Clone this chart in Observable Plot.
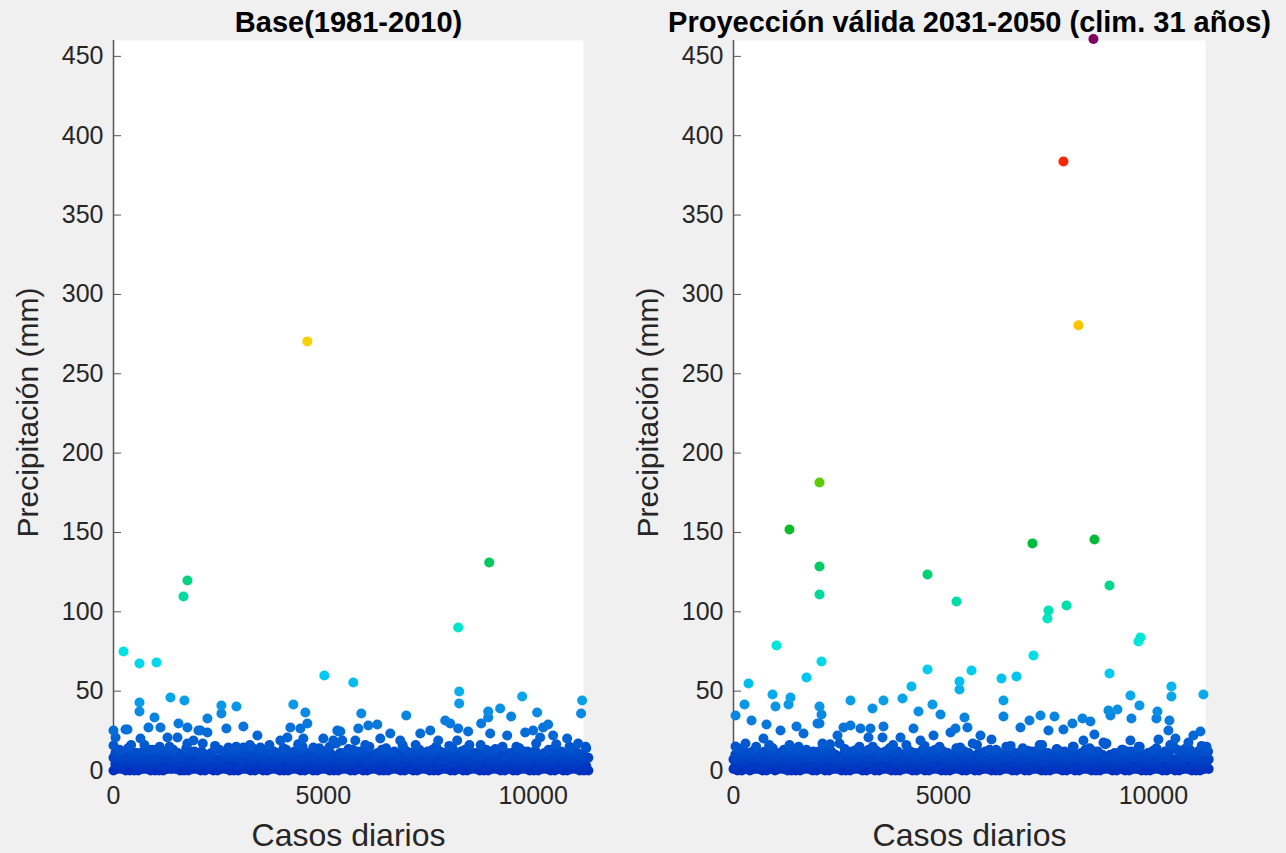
<!DOCTYPE html>
<html>
<head>
<meta charset="utf-8">
<script src="https://cdn.jsdelivr.net/npm/d3@7"></script>
<script src="https://cdn.jsdelivr.net/npm/@observablehq/plot@0.6"></script>
<style>
  html, body { margin: 0; padding: 0; background: #f0f0f0; }
  #wrap { position: relative; width: 1286px; height: 853px; overflow: hidden; background: #f0f0f0; }
  #left, #right { position: absolute; top: 0; }
  #left { left: 0; }
  #right { left: 600px; }
</style>
</head>
<body>
<div id="wrap"><div id="left"></div><div id="right"></div></div>
<script>
// ---------- text ----------
const titles = ["Base(1981-2010)", "Proyección válida 2031-2050 (clim. 31 años)"];
const xLabel = "Casos diarios";
const yLabel = "Precipitación (mm)";
const xTicks = [0, 5000, 10000];
const yTicks = [0, 50, 100, 150, 200, 250, 300, 350, 400, 450];

// ---------- colour map (value -> colour) ----------
const colorStops = [0, 10, 20, 30, 40, 50, 60, 70, 80, 95, 110, 125, 145, 155, 180, 270, 285, 383, 461];
const colorRange = ["#0030c0", "#0048c8", "#0462d4", "#0a7ade", "#0a94e6", "#08b0ec", "#00c8f0", "#00dcea",
  "#00e6dc", "#00e6c4", "#00dc9e", "#00d070", "#00bc38", "#10bb20", "#58cc00", "#f8d000", "#ffc000", "#ff2600", "#800064"];

// ---------- dense low band: day index shared, daily precipitation per panel ----------
const bandDays = [
  0, 45, 95, 150, 198, 240, 292, 345, 390, 441,
  495, 540, 588, 640, 690, 737, 785, 840, 888, 935,
  990, 1037, 1085, 1138, 1185, 1236, 1290, 1334, 1385, 1438,
  1482, 1533, 1587, 1630, 1680, 1735, 1782, 1830, 1884, 1930,
  1978, 2032, 2080, 2127, 2180, 2226, 2275, 2330, 2378, 2425,
  2477, 2525, 2573, 2628, 2674, 2720, 2774, 2822, 2870, 2925,
  2972, 3018, 3070, 3120, 3168, 3222, 3270, 3317, 3368, 3418,
  3465, 3520, 3566, 3614, 3666, 3716, 3763, 3818, 3864, 3912,
  3963, 4014, 4060, 4115, 4162, 4210, 4260, 4312, 4358, 4412,
  4458, 4506, 4557, 4610, 4655, 4710, 4756, 4804, 4855, 4907,
  4953, 5008, 5054, 5102, 5152, 5205, 5250, 5306, 5352, 5400,
  5449, 5503, 5548, 5603, 5650, 5697, 5746, 5800, 5846, 5900,
  5948, 5995, 6044, 6098, 6144, 6198, 6246, 6293, 6342, 6396,
  6442, 6496, 6544, 6590, 6640, 6694, 6740, 6794, 6842, 6888,
  6938, 6992, 7038, 7092, 7140, 7186, 7236, 7290, 7336, 7390,
  7438, 7484, 7534, 7588, 7634, 7688, 7736, 7782, 7832, 7886,
  7932, 7986, 8034, 8080, 8130, 8184, 8230, 8284, 8332, 8378,
  8428, 8482, 8528, 8582, 8630, 8676, 8726, 8780, 8826, 8880,
  8928, 8974, 9024, 9078, 9124, 9178, 9226, 9272, 9322, 9376,
  9422, 9476, 9524, 9570, 9620, 9674, 9720, 9774, 9822, 9868,
  9918, 9972, 10018, 10072, 10120, 10166, 10216, 10270, 10316, 10370,
  10418, 10464, 10514, 10568, 10614, 10668, 10716, 10762, 10812, 10866,
  10912, 10966, 11014, 11060, 11110, 11164, 11210, 11264, 11315
];
const baseBand = [
  0, 4, 8, 12, 1, 3, 9, 14, 0, 5,
  7, 11, 0, 4, 9, 16, 1, 3, 8, 13,
  0, 5, 7, 12, 0, 4, 8, 15, 1, 3,
  9, 11, 0, 5, 8, 14, 0, 4, 7, 12,
  1, 3, 9, 17, 0, 4, 8, 11, 0, 5,
  7, 13, 1, 4, 9, 12, 0, 3, 8, 15,
  0, 5, 7, 11, 1, 4, 9, 14, 0, 3,
  8, 12, 0, 5, 7, 16, 1, 4, 9, 11,
  0, 3, 8, 13, 0, 5, 7, 12, 1, 4,
  9, 15, 0, 3, 8, 11, 0, 5, 7, 14,
  1, 4, 9, 12, 0, 3, 8, 17, 0, 5,
  7, 11, 1, 4, 9, 13, 0, 3, 8, 12,
  0, 5, 7, 15, 1, 4, 9, 11, 0, 3,
  8, 14, 0, 5, 7, 12, 1, 4, 9, 16,
  0, 3, 8, 11, 0, 5, 7, 13, 1, 4,
  9, 12, 0, 3, 8, 15, 0, 5, 7, 11,
  1, 4, 9, 14, 0, 3, 8, 12, 0, 5,
  7, 16, 1, 4, 9, 11, 0, 3, 8, 13,
  0, 5, 7, 12, 1, 4, 9, 15, 0, 3,
  8, 11, 0, 5, 7, 14, 1, 4, 9, 12,
  0, 3, 8, 17, 0, 5, 7, 11, 1, 4,
  9, 13, 0, 3, 8, 12, 0, 5, 7, 15,
  1, 4, 9, 11, 0, 3, 8, 14, 0
];
const baseBand2 = [
  8, 11, 1, 4, 7, 10, 0, 5, 9, 12,
  0, 3, 8, 11, 1, 5, 7, 13, 0, 4,
  9, 10, 0, 3, 8, 12, 1, 4, 7, 11,
  1, 5, 9, 10, 0, 3, 8, 12, 1, 4,
  7, 11, 0, 5, 9, 10, 1, 3, 8, 13,
  0, 4, 7, 11, 1, 5, 9, 10, 0, 3,
  8, 12, 1, 4, 7, 10, 0, 5, 9, 11,
  1, 3, 8, 10, 0, 4, 7, 12, 1, 5,
  9, 11, 0, 3, 8, 10, 1, 4, 7, 13,
  0, 5, 9, 11, 1, 3, 8, 10, 0, 4,
  7, 12, 1, 5, 9, 10, 0, 3, 8, 11,
  1, 4, 7, 10, 0, 5, 9, 12, 1, 3,
  8, 11, 0, 4, 7, 10, 1, 5, 9, 13,
  0, 3, 8, 11, 1, 4, 7, 10, 0, 5,
  9, 12, 1, 3, 8, 11, 0, 4, 7, 10,
  1, 5, 9, 10, 0, 3, 8, 12, 1, 4,
  7, 11, 0, 5, 9, 10, 1, 3, 8, 13,
  0, 4, 7, 11, 1, 5, 9, 10, 0, 3,
  8, 12, 1, 4, 7, 10, 0, 5, 9, 11,
  1, 3, 8, 10, 0, 4, 7, 12, 1, 5,
  9, 11, 0, 3, 8, 10, 1, 4, 7, 13,
  0, 5, 9, 11, 1, 3, 8, 10, 0, 4,
  7, 12, 1, 5, 9, 10, 0, 3, 8
];
const projBand = [
  1, 3, 9, 13, 0, 5, 7, 11, 0, 4,
  8, 15, 1, 3, 7, 12, 0, 5, 9, 14,
  0, 4, 8, 11, 1, 3, 9, 16, 0, 5,
  7, 12, 0, 4, 8, 13, 1, 3, 9, 11,
  0, 5, 7, 14, 0, 4, 8, 12, 1, 3,
  9, 17, 0, 5, 7, 11, 0, 4, 8, 13,
  1, 3, 9, 12, 0, 5, 7, 15, 0, 4,
  8, 11, 1, 3, 9, 14, 0, 5, 7, 12,
  0, 4, 8, 16, 1, 3, 9, 11, 0, 5,
  7, 13, 0, 4, 8, 12, 1, 3, 9, 15,
  0, 5, 7, 11, 0, 4, 8, 14, 1, 3,
  9, 12, 0, 5, 7, 17, 0, 4, 8, 11,
  1, 3, 9, 13, 0, 5, 7, 12, 0, 4,
  8, 15, 1, 3, 9, 11, 0, 5, 7, 14,
  0, 4, 8, 12, 1, 3, 9, 16, 0, 5,
  7, 11, 0, 4, 8, 13, 1, 3, 9, 12,
  0, 5, 7, 15, 0, 4, 8, 11, 1, 3,
  9, 14, 0, 5, 7, 12, 0, 4, 8, 17,
  1, 3, 9, 11, 0, 5, 7, 13, 0, 4,
  8, 12, 1, 3, 9, 15, 0, 5, 7, 11,
  0, 4, 8, 14, 1, 3, 9, 12, 0, 5,
  7, 16, 0, 4, 8, 11, 1, 3, 9, 13,
  0, 5, 7, 12, 0, 4, 8, 15, 1
];
const projBand2 = [
  7, 10, 0, 5, 9, 12, 1, 3, 8, 11,
  1, 4, 9, 10, 0, 3, 7, 12, 1, 5,
  8, 11, 1, 4, 7, 10, 0, 5, 9, 13,
  0, 3, 8, 11, 1, 4, 9, 10, 0, 5,
  9, 12, 1, 3, 8, 11, 0, 4, 7, 10,
  1, 5, 8, 10, 0, 4, 7, 12, 1, 3,
  7, 11, 0, 5, 9, 13, 1, 3, 8, 10,
  0, 4, 9, 12, 1, 3, 8, 11, 0, 5,
  8, 10, 1, 4, 7, 12, 0, 5, 9, 11,
  1, 3, 7, 10, 0, 5, 9, 13, 1, 4,
  9, 11, 0, 3, 8, 10, 1, 4, 7, 12,
  0, 5, 8, 11, 1, 3, 7, 10, 0, 4,
  7, 12, 1, 5, 9, 11, 0, 3, 8, 10,
  1, 4, 9, 13, 0, 5, 8, 11, 1, 3,
  8, 10, 0, 4, 7, 12, 1, 5, 9, 11,
  0, 3, 7, 10, 1, 4, 9, 12, 0, 5,
  9, 11, 1, 3, 8, 10, 0, 4, 7, 13,
  1, 5, 8, 12, 0, 3, 7, 10, 1, 4,
  7, 10, 0, 4, 9, 11, 1, 5, 8, 12,
  0, 3, 9, 11, 1, 4, 8, 10, 0, 5,
  8, 12, 1, 5, 7, 10, 0, 3, 9, 11,
  1, 4, 7, 13, 0, 5, 9, 11, 1, 3,
  9, 10, 0, 4, 8, 12, 1, 5, 7
];

// ---------- individual wetter days [day, mm] ----------
const baseDays = [
  [4619, 270.4], [1762, 119.7], [1667, 109.7], [8953, 131.1], [8214, 90.1], [238, 75.0], [619, 67.4], [1024, 68.1],
  [5024, 59.9], [5714, 55.5], [8238, 49.8], [8238, 42.2], [9738, 46.6], [11167, 44.1], [11143, 35.9],
  [1357, 46.0], [1690, 44.1], [619, 42.9], [619, 37.2], [976, 33.4], [2238, 32.8], [2571, 41.0], [2571, 35.9],
  [2929, 40.3], [4286, 41.6], [4571, 36.6], [4619, 29.6], [5905, 35.9], [6976, 34.7], [8929, 37.2], [9214, 39.1],
  [9476, 34.0], [10095, 36.6], [8929, 33.4], [8762, 29.6], [7905, 31.5], [2690, 26.5], [3095, 27.7], [833, 27.1],
  [1119, 27.1], [1548, 29.6], [1762, 27.1], [2071, 25.2], [3429, 22.1], [4214, 27.1], [4452, 26.5], [5333, 25.2],
  [5000, 20.2], [286, 25.8], [48, 20.8], [6071, 28.4], [6286, 29.0], [5833, 26.5], [6595, 23.3], [7310, 23.3],
  [7548, 25.2], [8024, 29.6], [8214, 26.5], [8452, 24.6], [9381, 22.1], [9810, 23.9], [10000, 25.2], [10238, 27.1],
  [10357, 29.0], [10476, 22.1], [10810, 20.2], [11071, 17.0], [5405, 24.6], [5452, 18.9], [5762, 18.9], [6357, 20.2],
  [6833, 18.9], [7738, 18.9], [8190, 18.9], [8976, 23.3], [10167, 20.8], [0, 25.2], [333, 25.8], [643, 20.2],
  [1286, 20.8], [1524, 20.8], [1905, 18.9], [2238, 23.9], [2024, 25.2], [3976, 18.9], [4143, 20.8], [4524, 20.2],
  [4762, 14.5], [5357, 24.6], [5238, 18.9], [2738, 14.5], [3095, 14.5], [3500, 14.5], [0, 15.8],
  [140, 13], [420, 16], [760, 12.5], [1100, 15], [1420, 13], [1760, 17], [2100, 12], [2420, 15.5], [2900, 13],
  [3250, 16], [3700, 12.5], [4050, 14], [4400, 16.5], [4900, 12], [5150, 15], [5600, 13.5], [6000, 16], [6450, 12.5],
  [6900, 14.5], [7200, 16], [7600, 13], [8000, 15.5], [8400, 12], [8750, 16], [9100, 13.5], [9600, 15], [10050, 12.5],
  [10550, 16.5], [10900, 13], [11250, 15]
];
const projDays = [
  [8571, 461], [7857, 383.8], [8214, 280.5], [2048, 181.5], [1333, 151.9], [2048, 128.6], [2048, 110.9], [4619, 123.5],
  [5310, 106.5], [7119, 143.1], [8595, 145.6], [8953, 116.6], [7500, 100.8], [7476, 95.8], [7929, 104.0], [9690, 83.8],
  [9643, 81.3], [1024, 78.8], [2095, 68.7], [1738, 58.6], [357, 54.8], [929, 47.9], [262, 41.6], [48, 34.7],
  [429, 31.5], [786, 29.0], [1000, 40.3], [1357, 46.0], [1310, 41.6], [2048, 40.3], [2095, 35.3], [2048, 29.6],
  [2786, 44.1], [3310, 39.1], [3571, 44.1], [4024, 45.4], [4238, 52.9], [4619, 63.7], [4738, 41.6], [4929, 35.3],
  [4405, 37.2], [5381, 56.1], [5381, 51.0], [5500, 33.4], [48, 15.1], [286, 17.0], [714, 20.2], [1119, 25.2],
  [1500, 27.7], [1667, 23.3], [2000, 29.6], [2119, 17.0], [2476, 22.1], [2619, 27.1], [2786, 28.4], [3024, 26.5],
  [3262, 26.5], [3214, 20.8], [3571, 27.7], [3548, 20.8], [3976, 20.8], [4286, 26.5], [4452, 18.9], [4762, 22.1],
  [5167, 23.9], [5286, 26.5], [5571, 27.1], [5667, 63.0], [7143, 72.5], [6381, 58.0], [6738, 59.2], [8953, 61.1],
  [6429, 44.1], [6429, 34.0], [9452, 47.3], [9667, 41.0], [10429, 52.9], [10429, 46.6], [11190, 47.9], [8929, 37.8],
  [9143, 38.4], [8976, 34.7], [9476, 32.8], [10095, 37.2], [10071, 32.8], [10381, 31.5], [7310, 34.7], [7643, 34.0],
  [7048, 31.5], [8071, 29.6], [8310, 32.8], [8500, 30.9], [6833, 27.1], [7500, 25.2], [7857, 25.8], [8595, 22.7],
  [5881, 22.1], [6143, 19.5], [10357, 25.2], [10524, 20.2], [11119, 24.6], [10952, 22.1], [10833, 17.6], [8333, 18.9],
  [8810, 17.6], [9452, 18.9], [10119, 19.5],
  [100, 14], [480, 12.5], [850, 16], [1200, 13], [1550, 15], [1900, 12], [2300, 16.5], [2650, 13.5], [3000, 15],
  [3400, 12.5], [3800, 16], [4150, 13], [4550, 15.5], [5000, 12], [5400, 14.5], [5800, 16], [6250, 13], [6600, 15.5],
  [7000, 12.5], [7350, 16], [7700, 13.5], [8100, 15], [8500, 12], [8850, 16.5], [9250, 13], [9650, 15], [10000, 12.5],
  [10400, 16], [10750, 13.5], [11150, 15.5], [11300, 12]
];

// ---------- build ----------
const color = d3.scaleLinear().domain(colorStops).range(colorRange).interpolate(d3.interpolateRgb).clamp(true);

function rows(bands, days) {
  const out = [];
  for (const band of bands) {
    const n = Math.min(band.length, bandDays.length);
    for (let i = 0; i < n; i++) out.push({day: bandDays[i], mm: band[i]});
  }
  for (const [day, mm] of days) out.push({day, mm});
  return out.sort((a, b) => a.mm - b.mm);
}

const FONT = "'Liberation Sans', Arial, Helvetica, sans-serif";

function panel(title, data, width, marginLeft, marginRight, xMax) {
  return Plot.plot({
    width, height: 853,
    marginTop: 40, marginBottom: 83, marginLeft, marginRight,
    x: {domain: [0, xMax]},
    y: {domain: [0, 460]},
    style: {background: "transparent", fontFamily: FONT, color: "#262626", overflow: "visible"},
    marks: [
      Plot.frame({fill: "white", stroke: null}),
      Plot.axisY(yTicks, {anchor: "left", tickSize: 8, dx: 8, tickPadding: 10, fontSize: 25, label: null, stroke: "#555"}),
      Plot.axisX(xTicks, {anchor: "bottom", tickSize: 0, tickPadding: 16, fontSize: 25, label: null, tickFormat: d => String(d)}),
      Plot.ruleX([0], {stroke: "#555", strokeWidth: 1.5}),
      Plot.dot(data, {x: "day", y: "mm", r: 5, fill: d => color(d.mm), stroke: null}),
      Plot.text([title], {frameAnchor: "top", dy: -18, lineAnchor: "middle", fontWeight: "bold", fontSize: 29, fill: "#000"}),
      Plot.text([xLabel], {frameAnchor: "bottom", dy: 65, lineAnchor: "middle", fontSize: 32, fill: "#262626"}),
      Plot.text([yLabel], {frameAnchor: "left", dx: -85, dy: 7, rotate: -90, textAnchor: "middle", lineAnchor: "middle", fontSize: 30, fill: "#262626"})
    ]
  });
}

document.getElementById("left").append(panel(titles[0], rows([baseBand, baseBand2], baseDays), 650, 113, 67, 11200));
document.getElementById("right").append(panel(titles[1], rows([projBand, projBand2], projDays), 686, 133, 81, 11240));
</script>
</body>
</html>
